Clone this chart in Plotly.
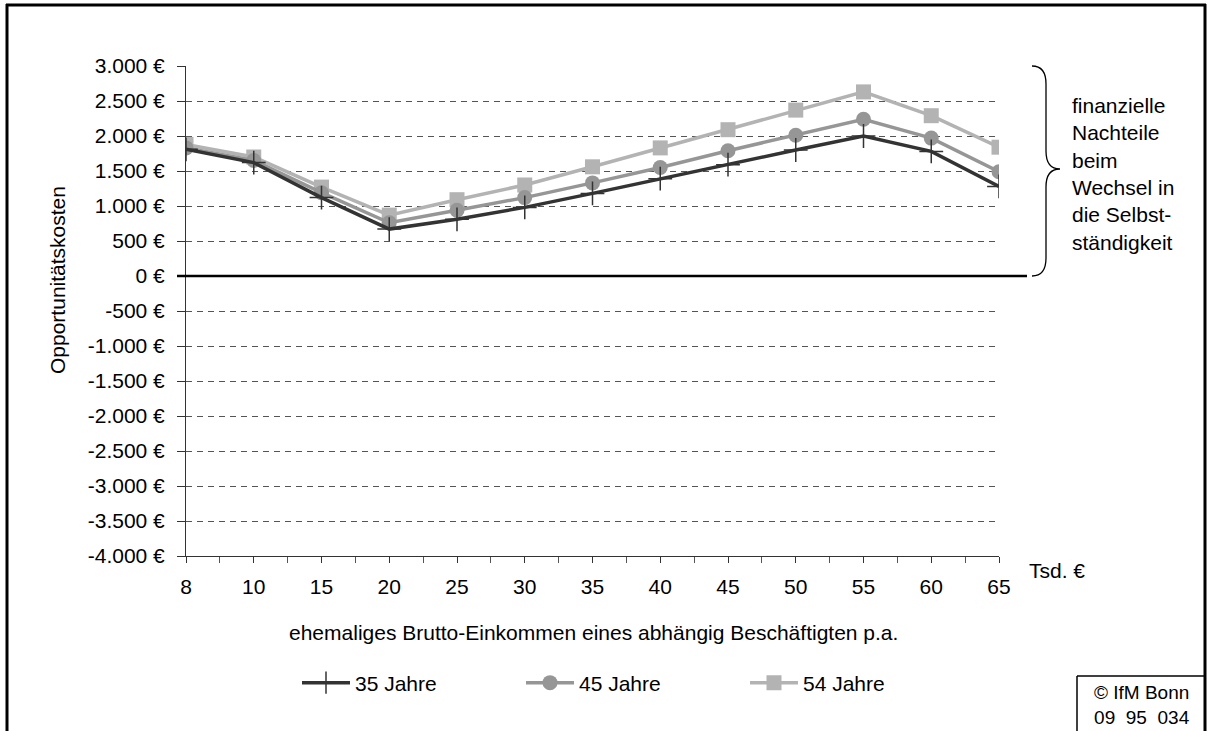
import plotly.graph_objects as go

# Daten
einkommen = ['8', '10', '15', '20', '25', '30', '35', '40', '45', '50', '55', '60', '65']
jahre_35 = [1810, 1620, 1120, 670, 810, 980, 1180, 1390, 1590, 1800, 2000, 1780, 1280]
jahre_45 = [1830, 1650, 1190, 760, 940, 1120, 1330, 1550, 1790, 2010, 2240, 1970, 1490]
jahre_54 = [1880, 1700, 1270, 870, 1090, 1300, 1560, 1830, 2090, 2370, 2630, 2290, 1840]
y_ticks = [3000, 2500, 2000, 1500, 1000, 500, 0, -500, -1000, -1500, -2000, -2500, -3000, -3500, -4000]
y_tick_labels = ['3.000 €', '2.500 €', '2.000 €', '1.500 €', '1.000 €', '500 €', '0 €', '-500 €',
                 '-1.000 €', '-1.500 €', '-2.000 €', '-2.500 €', '-3.000 €', '-3.500 €', '-4.000 €']

W, H = 1208, 731
L, R, T, B = 186, 209, 66, 175
FONT = 'Liberation Sans, Arial, sans-serif'
FS = 21


# pixel -> paper
def px(x):
    return (x - L) / (W - L - R)


def py(y):
    return (H - B - y) / (H - T - B)


xs = list(range(len(einkommen)))

fig = go.Figure()
fig.add_trace(go.Scatter(x=xs, y=jahre_54, name='54 Jahre', mode='lines+markers', legendrank=3,
                         line=dict(color='#b3b3b3', width=3.5),
                         marker=dict(symbol='square', size=15, color='#b3b3b3')))
fig.add_trace(go.Scatter(x=xs, y=jahre_45, name='45 Jahre', mode='lines+markers', legendrank=2,
                         line=dict(color='#969696', width=3.5),
                         marker=dict(symbol='circle', size=15, color='#969696')))
fig.add_trace(go.Scatter(x=xs, y=jahre_35, name='35 Jahre', mode='lines+markers', legendrank=1,
                         line=dict(color='#333333', width=3.5),
                         marker=dict(symbol='cross-thin', size=17, color='#333333',
                                     line=dict(color='#333333', width=1.5))))

shapes = [
    # Nulllinie
    dict(type='line', xref='paper', yref='y', x0=px(177), x1=px(1027), y0=0, y1=0,
         line=dict(color='black', width=2.5)),
    # Rahmen
    dict(type='line', xref='paper', yref='paper', x0=px(7), x1=px(7), y0=py(4), y1=py(760),
         line=dict(color='black', width=3)),
    dict(type='line', xref='paper', yref='paper', x0=px(6), x1=px(1206), y0=py(5), y1=py(5),
         line=dict(color='black', width=3)),
    dict(type='line', xref='paper', yref='paper', x0=px(1205), x1=px(1205), y0=py(4), y1=py(760),
         line=dict(color='black', width=3)),
    # Copyright-Kasten (links und oben, rechts ist der Rahmen)
    dict(type='line', xref='paper', yref='paper', x0=px(1077), x1=px(1077), y0=py(676), y1=py(760),
         line=dict(color='black', width=1.5)),
    dict(type='line', xref='paper', yref='paper', x0=px(1077), x1=px(1205), y0=py(676), y1=py(676),
         line=dict(color='black', width=1.5)),
    # geschweifte Klammer
    dict(type='path', xref='paper', yref='paper',
         path=(f'M {px(1032)},{py(66)} Q {px(1046)},{py(66)} {px(1046)},{py(84)} '
               f'L {px(1046)},{py(151)} Q {px(1046)},{py(169)} {px(1060)},{py(169)} '
               f'Q {px(1046)},{py(169)} {px(1046)},{py(187)} L {px(1046)},{py(258)} '
               f'Q {px(1046)},{py(276)} {px(1032)},{py(276)}'),
         line=dict(color='black', width=1.3)),
]

annotations = [
    dict(text='Opportunitätskosten', xref='paper', yref='paper', x=px(57), y=py(280),
         textangle=-90, showarrow=False, xanchor='center', yanchor='middle'),
    dict(text='ehemaliges Brutto-Einkommen eines abhängig Beschäftigten p.a.', xref='paper', yref='paper',
         x=px(593), y=py(632), showarrow=False, xanchor='center', yanchor='middle'),
    dict(text='Tsd. €', xref='paper', yref='paper', x=px(1027), y=py(570),
         showarrow=False, xanchor='left', yanchor='middle'),
    dict(text='finanzielle<br>Nachteile<br>beim<br>Wechsel in<br>die Selbst-<br>ständigkeit',
         xref='paper', yref='paper', x=px(1070), y=py(174), showarrow=False,
         xanchor='left', yanchor='middle', align='left'),
    dict(text='© IfM Bonn<br>09  95  034', xref='paper', yref='paper', x=px(1142), y=py(705),
         showarrow=False, xanchor='center', yanchor='middle', align='center',
         font=dict(size=19)),
]

fig.update_layout(
    width=W, height=H,
    margin=dict(l=L, r=R, t=T, b=B, autoexpand=False),
    paper_bgcolor='white', plot_bgcolor='white',
    font=dict(family=FONT, size=FS, color='black'),
    showlegend=True,
    legend=dict(orientation='h', x=px(297), y=py(683), xanchor='left', yanchor='middle',
                entrywidth=161, entrywidthmode='pixels', itemwidth=48,
                font=dict(size=FS), bgcolor='rgba(0,0,0,0)'),
    shapes=shapes,
    annotations=annotations,
)
fig.update_xaxes(range=[0, 12], tickvals=xs, ticktext=einkommen, showgrid=False, zeroline=False,
                 showline=True, linecolor='#333333', linewidth=1, ticks='outside', ticklen=6,
                 tickcolor='#333333', ticklabelstandoff=6,
                 minor=dict(ticks='outside', dtick=0.5, tick0=0, ticklen=6, tickcolor='#555555'))
fig.update_yaxes(range=[-4000, 3000], tickvals=y_ticks, ticktext=y_tick_labels, showgrid=True,
                 gridcolor='#555555', gridwidth=1, griddash='6px,5px', zeroline=False,
                 showline=True, linecolor='#333333', linewidth=1, ticks='outside', ticklen=8,
                 tickcolor='#333333', ticklabelstandoff=8)

# Seitenrand des Browsers entfernen, damit die Grafik bei (0,0) beginnt
fig.write_html('out.html', config={'displayModeBar': False},
               post_script="document.body.style.margin='0px';")
